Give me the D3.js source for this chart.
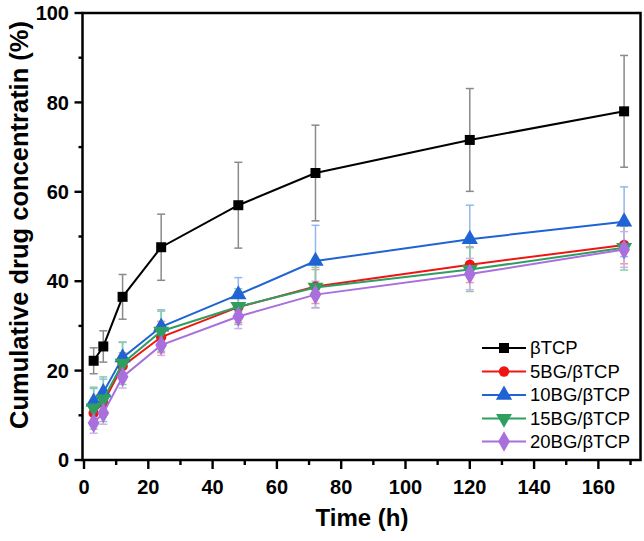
<!DOCTYPE html>
<html>
<head>
<meta charset="utf-8">
<script src="https://cdn.jsdelivr.net/npm/d3@7"></script>
<style>
html,body{margin:0;padding:0;background:#fff;}
svg{display:block;font-family:"Liberation Sans",Arial,Helvetica,sans-serif;}
</style>
</head>
<body>
<svg id="chart" width="644" height="541"></svg>
<script>
const times = [3, 6, 12, 24, 48, 72, 120, 168];
const seriesNames = ["βTCP", "5BG/βTCP", "10BG/βTCP", "15BG/βTCP", "20BG/βTCP"];
const valsTCP   = [22.2, 25.4, 36.5, 47.6, 57.0, 64.2, 71.6, 78.0];
const errTCP    = [2.9, 3.5, 5.0, 7.4, 9.6, 10.7, 11.5, 12.5];
const vals5BG   = [10.5, 12.8, 21.0, 27.5, 34.2, 38.8, 43.7, 48.1];
const err5BG    = [2.5, 2.5, 3.0, 3.5, 3.5, 3.8, 4.0, 4.2];
const vals10BG  = [13.0, 15.1, 22.9, 29.8, 37.0, 44.5, 49.4, 53.3];
const err10BG   = [3.0, 3.0, 3.5, 3.8, 3.8, 8.0, 7.6, 7.8];
const vals15BG  = [11.6, 13.6, 21.6, 28.8, 34.3, 38.6, 42.6, 47.5];
const err15BG   = [4.7, 5.0, 4.7, 4.5, 4.0, 4.5, 4.9, 5.0];
const vals20BG  = [8.3, 10.5, 18.6, 25.7, 32.1, 37.0, 41.6, 47.1];
const err20BG   = [2.3, 2.5, 2.5, 2.3, 2.7, 3.0, 3.5, 4.0];
const xTicks = [0, 20, 40, 60, 80, 100, 120, 140, 160];
const yTicks = [0, 20, 40, 60, 80, 100];
const xTitle = "Time (h)";
const yTitle = "Cumulative drug concentratin (%)";

const colors    = ["#000000", "#f01414", "#1f63d4", "#2e9f60", "#a96fdd"];
const errColors = ["#8a8a8a", "#f29a9a", "#93b6ec", "#86cfa4", "#d0aef0"];
const symbols   = [d3.symbolSquare, d3.symbolCircle, d3.symbolTriangle, "down", d3.symbolDiamond];
const symSizes  = [100, 85, 115, 110, 120];

const series = [
  {vals: valsTCP, err: errTCP},
  {vals: vals5BG, err: err5BG},
  {vals: vals10BG, err: err10BG},
  {vals: vals15BG, err: err15BG},
  {vals: vals20BG, err: err20BG}
].map((s, i) => ({name: seriesNames[i], color: colors[i], ecolor: errColors[i],
  points: times.map((t, j) => ({t, v: s.vals[j], e: s.err[j]}))}));

const svg = d3.select("#chart");
const L = 82.5, R = 640.5, T = 13, B = 460;
const x = d3.scaleLinear().domain([-0.47, 173.1]).range([L, R]);
const y = d3.scaleLinear().domain([0, 100]).range([B, T]);

function markerPath(i) {
  const s = symbols[i];
  if (s === "down") return d3.symbol(d3.symbolTriangle, symSizes[i])();
  return d3.symbol(s, symSizes[i])();
}
function markerTransform(i, px, py) {
  if (symbols[i] === "down") return `translate(${px},${py}) rotate(180)`;
  return `translate(${px},${py})`;
}

// error bars
const eg = svg.append("g");
series.forEach(s => {
  s.points.forEach(p => {
    const g = eg.append("g").attr("stroke", s.ecolor).attr("stroke-width", 1.5).attr("fill", "none");
    g.append("line").attr("x1", x(p.t)).attr("x2", x(p.t)).attr("y1", y(p.v - p.e)).attr("y2", y(p.v + p.e));
    [p.v - p.e, p.v + p.e].forEach(v => g.append("line")
      .attr("x1", x(p.t) - 4).attr("x2", x(p.t) + 4).attr("y1", y(v)).attr("y2", y(v)));
  });
});

// lines and markers
const line = d3.line().x(d => x(d.t)).y(d => y(d.v));
series.forEach((s, i) => {
  svg.append("path").datum(s.points).attr("d", line)
    .attr("fill", "none").attr("stroke", s.color).attr("stroke-width", 2);
  svg.append("g").selectAll("path").data(s.points).join("path")
    .attr("d", markerPath(i))
    .attr("transform", d => markerTransform(i, x(d.t), y(d.v)))
    .attr("fill", s.color);
});

// axes
const axisColor = "#000";
const minorX = d3.range(10, 171, 20);
const minorY = d3.range(10, 100, 20);
const xa = svg.append("g").attr("transform", `translate(0,${B})`);
xa.selectAll("line.maj").data(xTicks).join("line")
  .attr("x1", d => x(d)).attr("x2", d => x(d)).attr("y1", 0).attr("y2", 9)
  .attr("stroke", axisColor).attr("stroke-width", 2.4);
xa.selectAll("line.min").data(minorX).join("line")
  .attr("x1", d => x(d)).attr("x2", d => x(d)).attr("y1", 0).attr("y2", 5)
  .attr("stroke", axisColor).attr("stroke-width", 2.4);
xa.selectAll("text").data(xTicks).join("text")
  .attr("x", d => x(d)).attr("y", 34).attr("text-anchor", "middle")
  .attr("font-size", 20).attr("font-weight", "bold").text(d => d);

const ya = svg.append("g");
ya.selectAll("line.maj").data(yTicks).join("line")
  .attr("x1", L - 8).attr("x2", L).attr("y1", d => y(d)).attr("y2", d => y(d))
  .attr("stroke", axisColor).attr("stroke-width", 2.4);
ya.selectAll("line.min").data(minorY).join("line")
  .attr("x1", L - 4).attr("x2", L).attr("y1", d => y(d)).attr("y2", d => y(d))
  .attr("stroke", axisColor).attr("stroke-width", 2.4);
ya.selectAll("text").data(yTicks).join("text")
  .attr("x", 69).attr("y", d => y(d)).attr("dy", "0.36em").attr("text-anchor", "end")
  .attr("font-size", 20).attr("font-weight", "bold").text(d => d);

// frame
svg.append("rect").attr("x", L).attr("y", T).attr("width", R - L).attr("height", B - T)
  .attr("fill", "none").attr("stroke", axisColor).attr("stroke-width", 2.5);

// titles
svg.append("text").attr("x", 362).attr("y", 526).attr("text-anchor", "middle")
  .attr("font-size", 24).attr("font-weight", "bold").text(xTitle);
svg.append("text").attr("transform", "translate(27.5,225) rotate(-90)").attr("text-anchor", "middle")
  .attr("font-size", 25.5).attr("font-weight", "bold").text(yTitle);

// legend
const lg = svg.append("g");
const legY = [348, 371.5, 395, 418.5, 441.5];
series.forEach((s, i) => {
  const g = lg.append("g").attr("transform", `translate(0,${legY[i]})`);
  g.append("line").attr("x1", 482).attr("x2", 526).attr("y1", 0).attr("y2", 0)
    .attr("stroke", s.color).attr("stroke-width", 2);
  g.append("path").attr("d", markerPath(i)).attr("transform", markerTransform(i, 504, 0)).attr("fill", s.color);
  g.append("text").attr("x", 530).attr("y", 0).attr("dy", "0.35em")
    .attr("font-size", 18.5).text(s.name);
});
</script>
</body>
</html>
